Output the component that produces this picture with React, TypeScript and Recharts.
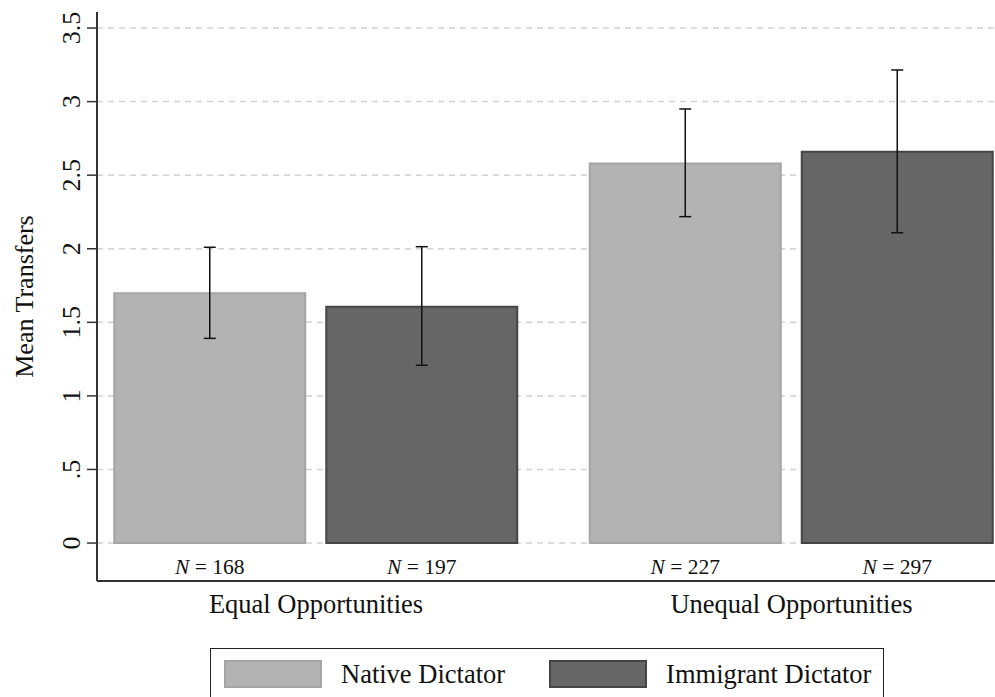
import React from 'react';
import { BarChart, Bar, XAxis, YAxis, CartesianGrid, ErrorBar, LabelList } from 'recharts';

const groups = ['Equal Opportunities', 'Unequal Opportunities'];
const seriesNames = ['Native Dictator', 'Immigrant Dictator'];

const nativeMean = [1.697, 2.58];
const nativeLow = [1.391, 2.218];
const nativeHigh = [2.01, 2.95];
const nativeN = [168, 227];

const immigrantMean = [1.606, 2.659];
const immigrantLow = [1.208, 2.109];
const immigrantHigh = [2.014, 3.215];
const immigrantN = [197, 297];

const yTicks = [0, 0.5, 1, 1.5, 2, 2.5, 3, 3.5];
const yTickLabels = ['0', '.5', '1', '1.5', '2', '2.5', '3', '3.5'];

const FONT = '"Liberation Serif", "Times New Roman", serif';
const LIGHT = { fill: '#b3b3b3', stroke: '#a4a4a4' };
const DARK = { fill: '#666666', stroke: '#454545' };

const data = groups.map((g, i) => ({
  group: g,
  native: nativeMean[i],
  nativeErr: [nativeMean[i] - nativeLow[i], nativeHigh[i] - nativeMean[i]],
  nativeN: nativeN[i],
  immigrant: immigrantMean[i],
  immigrantErr: [immigrantMean[i] - immigrantLow[i], immigrantHigh[i] - immigrantMean[i]],
  immigrantN: immigrantN[i],
}));

// y tick labels run bottom-to-top, Stata style
const YTick = (props: any) => {
  const { x, y, payload } = props;
  const label = yTickLabels[yTicks.indexOf(payload.value)] ?? String(payload.value);
  return (
    <text x={x} y={y} transform={`rotate(-90, ${x}, ${y})`} textAnchor="middle"
      fontFamily={FONT} fontSize={26} fill="#111">
      {label}
    </text>
  );
};

const XTick = (props: any) => {
  const { x, y, payload } = props;
  return (
    <text x={x} y={y + 32} textAnchor="middle" fontFamily={FONT} fontSize={26.5} fill="#111">
      {payload.value}
    </text>
  );
};

// sample size under each bar
const NLabel = (props: any) => {
  const { x, y, width, height, value } = props;
  return (
    <text x={Number(x) + Number(width) / 2} y={Number(y) + Number(height) + 31} textAnchor="middle"
      fontFamily={FONT} fontSize={21.5} fill="#111">
      <tspan fontStyle="italic">N</tspan> = {value}
    </text>
  );
};

const YTitle = (props: any) => {
  const vb = props.viewBox || {};
  const cy = (vb.y ?? 12) + (vb.height ?? 569) / 2;
  return (
    <text x={33} y={cy} transform={`rotate(-90, 33, ${cy})`} textAnchor="middle"
      fontFamily={FONT} fontSize={26} fill="#111">
      Mean Transfers
    </text>
  );
};

export default function App() {
  return (
    <div style={{ position: 'absolute', left: 0, top: 0, width: 995, height: 697, background: '#fff', overflow: 'hidden', fontFamily: FONT }}>
      <BarChart width={995} height={640} data={data} margin={{ top: 12, right: 0, bottom: 0, left: 0 }}
        barGap={21} barSize={191}>
        <CartesianGrid vertical={false} horizontalValues={yTicks} stroke="#d2d2d2" strokeDasharray="6 5" strokeWidth={1.5} />
        <XAxis dataKey="group" height={59} padding={{ left: -18.75, right: -34.25 }}
          axisLine={{ stroke: '#333', strokeWidth: 2 }} tickLine={false} tickSize={0} tickMargin={0}
          interval={0} tick={<XTick />} />
        <YAxis type="number" domain={[-0.258, 3.609]} ticks={yTicks} interval={0} width={97}
          tickSize={10} tickMargin={7} axisLine={{ stroke: '#333', strokeWidth: 2 }}
          tickLine={{ stroke: '#333', strokeWidth: 1.5 }} tick={<YTick />} label={<YTitle />} />
        <Bar dataKey="native" fill={LIGHT.fill} stroke={LIGHT.stroke} strokeWidth={2} isAnimationActive={false}>
          <ErrorBar dataKey="nativeErr" direction="y" width={6} stroke="#111" strokeWidth={1.5} isAnimationActive={false} />
          <LabelList dataKey="nativeN" content={<NLabel />} />
        </Bar>
        <Bar dataKey="immigrant" fill={DARK.fill} stroke={DARK.stroke} strokeWidth={2} isAnimationActive={false}>
          <ErrorBar dataKey="immigrantErr" direction="y" width={6} stroke="#111" strokeWidth={1.5} isAnimationActive={false} />
          <LabelList dataKey="immigrantN" content={<NLabel />} />
        </Bar>
      </BarChart>
      <div style={{
        position: 'absolute', left: 210, top: 648, width: 674, height: 60, border: '1.5px solid #222',
        boxSizing: 'border-box', display: 'flex', alignItems: 'flex-start', paddingTop: 11,
      }}>
        {seriesNames.map((name, i) => {
          const sw = i === 0 ? LIGHT : DARK;
          return (
            <div key={name} style={{ display: 'flex', alignItems: 'center', marginLeft: i === 0 ? 13 : 44 }}>
              <div style={{ width: 98, height: 28, background: sw.fill, border: `2px solid ${sw.stroke}`, boxSizing: 'border-box' }} />
              <span style={{ marginLeft: 19, fontSize: 26.5, color: '#111', lineHeight: '28px' }}>{name}</span>
            </div>
          );
        })}
      </div>
    </div>
  );
}
